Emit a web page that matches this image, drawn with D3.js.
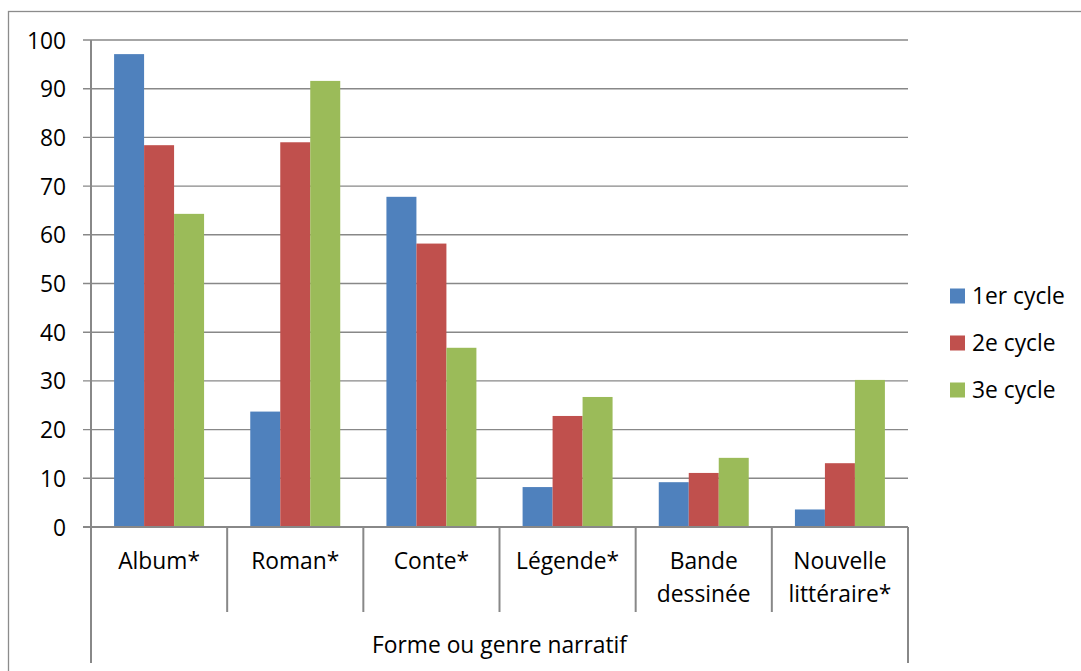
<!DOCTYPE html>
<html>
<head>
<meta charset="utf-8">
<script src="https://cdn.jsdelivr.net/npm/d3@7"></script>
<style>
  html, body { margin: 0; padding: 0; background: #fff; }
  svg { display: block; }
  text { font-family: "Open Sans", Lato, "Liberation Sans", sans-serif; fill: #000; }
</style>
</head>
<body>
<svg id="chart" width="1081" height="671"></svg>
<script>
const categories = [["Album*"], ["Roman*"], ["Conte*"], ["Légende*"], ["Bande", "dessinée"], ["Nouvelle", "littéraire*"]];
const seriesNames = ["1er cycle", "2e cycle", "3e cycle"];
const cycle1 = [97.1, 23.7, 67.8, 8.2, 9.2, 3.6];
const cycle2 = [78.4, 79.0, 58.2, 22.8, 11.1, 13.1];
const cycle3 = [64.3, 91.6, 36.8, 26.7, 14.2, 30.2];
const yTicks = [0, 10, 20, 30, 40, 50, 60, 70, 80, 90, 100];
const axisTitle = "Forme ou genre narratif";
const colors = ["#4F81BD", "#C0504D", "#9BBB59"];

const seriesValues = [cycle1, cycle2, cycle3];
const svg = d3.select("#chart");
const fs = 22.8;

// outer frame
svg.append("rect").attr("x", 8.5).attr("y", 11.5).attr("width", 1200).attr("height", 800)
  .attr("fill", "none").attr("stroke", "#8c8c8c").attr("stroke-width", 1.3);

const pLeft = 91, pRight = 908, pTop = 40, pBottom = 527;
const x = d3.scaleBand().domain(d3.range(categories.length)).range([pLeft, pRight]).paddingInner(0).paddingOuter(0);
const y = d3.scaleLinear().domain([0, 100]).range([pBottom, pTop]);
const inner = d3.scaleBand().domain(d3.range(seriesNames.length)).range([0, x.bandwidth()]).paddingInner(0).paddingOuter(0.77);

const gridColor = "#888888";

// gridlines
svg.append("g").selectAll("line").data(yTicks.filter(d => d > 0)).join("line")
  .attr("x1", pLeft - 8).attr("x2", pRight)
  .attr("y1", d => y(d)).attr("y2", d => y(d))
  .attr("stroke", gridColor).attr("stroke-width", 1.4);

// y tick labels
svg.append("g").selectAll("text").data(yTicks).join("text")
  .attr("x", 66).attr("y", d => y(d) + 8.5)
  .attr("text-anchor", "end").attr("font-size", fs)
  .text(d => d);

// bars
const groups = svg.append("g").selectAll("g").data(seriesValues).join("g")
  .attr("fill", (d, i) => colors[i]);
groups.each(function(vals, si) {
  d3.select(this).selectAll("rect").data(vals).join("rect")
    .attr("x", (d, ci) => x(ci) + inner(si))
    .attr("width", inner.bandwidth())
    .attr("y", d => y(d))
    .attr("height", d => y(0) - y(d));
});

// y axis line
svg.append("line").attr("x1", pLeft).attr("x2", pLeft).attr("y1", pTop).attr("y2", 663)
  .attr("stroke", gridColor).attr("stroke-width", 2);
// x axis line (0)
svg.append("line").attr("x1", pLeft - 8).attr("x2", pRight).attr("y1", pBottom).attr("y2", pBottom)
  .attr("stroke", gridColor).attr("stroke-width", 2.2);
// right outer line of category axis
svg.append("line").attr("x1", pRight).attr("x2", pRight).attr("y1", pBottom).attr("y2", 663)
  .attr("stroke", gridColor).attr("stroke-width", 2);
// category separators
svg.append("g").selectAll("line").data(d3.range(1, categories.length)).join("line")
  .attr("x1", d => x(d)).attr("x2", d => x(d))
  .attr("y1", pBottom).attr("y2", 612)
  .attr("stroke", gridColor).attr("stroke-width", 2);

// category labels
const catG = svg.append("g").selectAll("text").data(categories).join("text")
  .attr("text-anchor", "middle").attr("font-size", fs)
  .attr("x", (d, i) => x(i) + x.bandwidth() / 2)
  .attr("y", 569);
catG.selectAll("tspan").data(d => d).join("tspan")
  .attr("x", function() { return d3.select(this.parentNode).attr("x"); })
  .attr("dy", (d, i) => i === 0 ? 0 : 33)
  .text(d => d);

// axis title
svg.append("text").attr("x", (pLeft + pRight) / 2).attr("y", 653)
  .attr("text-anchor", "middle").attr("font-size", fs).text(axisTitle);

// legend
const leg = svg.append("g").selectAll("g").data(seriesNames).join("g")
  .attr("transform", (d, i) => `translate(950, ${296 + i * 47})`);
leg.append("rect").attr("x", 0).attr("y", -7.5).attr("width", 15).attr("height", 15)
  .attr("fill", (d, i) => colors[i]);
leg.append("text").attr("x", 22).attr("y", 7.5).attr("font-size", fs).text(d => d);
</script>
</body>
</html>
